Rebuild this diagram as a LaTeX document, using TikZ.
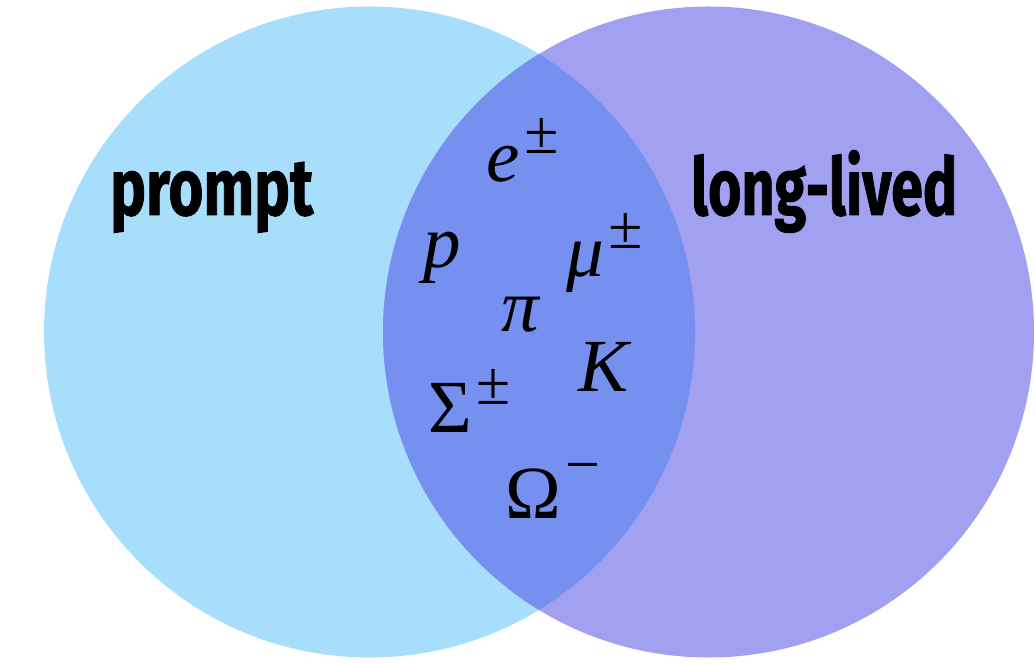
\documentclass[tikz,border=0pt]{standalone}
\usepackage{fontspec}
\usepackage{graphicx}
\newfontfamily\tms{Liberation Serif}
\newfontfamily\lab{Fira Sans}[BoldFeatures={FakeBold=1.2}]
\definecolor{leftc}{RGB}{166,222,252}
\definecolor{rightc}{RGB}{162,160,241}
\definecolor{midc}{RGB}{118,144,240}
\newcommand{\supsym}[2][28pt]{\kern5pt\raisebox{#1}{\fontsize{62}{66}\selectfont #2}}
\begin{document}
\begin{tikzpicture}[x=1pt,y=1pt,
  sym/.style={anchor=base west,inner sep=0pt,font=\tms\fontsize{75}{80}\selectfont},
  setlabel/.style={anchor=base west,inner sep=0pt,font=\lab\bfseries\fontsize{80}{90}\selectfont}]
\useasboundingbox (0,0) rectangle (1035,664);
\coordinate (lc) at (369.5,332);
\coordinate (rc) at (708.5,332);
\fill[leftc] (lc) circle[radius=325.5pt];
\fill[rightc] (rc) circle[radius=325.5pt];
\begin{scope}
  \clip (lc) circle[radius=325.5pt];
  \fill[midc] (rc) circle[radius=325.5pt];
\end{scope}
\node[setlabel] (prompt) at (110,449) {\resizebox{203pt}{\height}{prompt}};
\node[setlabel] (long) at (691,449) {\resizebox{266pt}{\height}{long-lived}};
\node[sym] (e) at (486,482) {\itshape e\supsym{±}};
\node[sym] (p) at (423,396) {\itshape p};
\node[sym] (mu) at (566,387) {\itshape μ\supsym{±}};
\node[sym] (pi) at (501,332) {\itshape π};
\node[sym] (K) at (578,272) {\itshape K};
\node[sym] (Sigma) at (428,231) {Σ\supsym{±}};
\node[sym] (Omega) at (505,146) {Ω\supsym[33pt]{−}};
\end{tikzpicture}
\end{document}
